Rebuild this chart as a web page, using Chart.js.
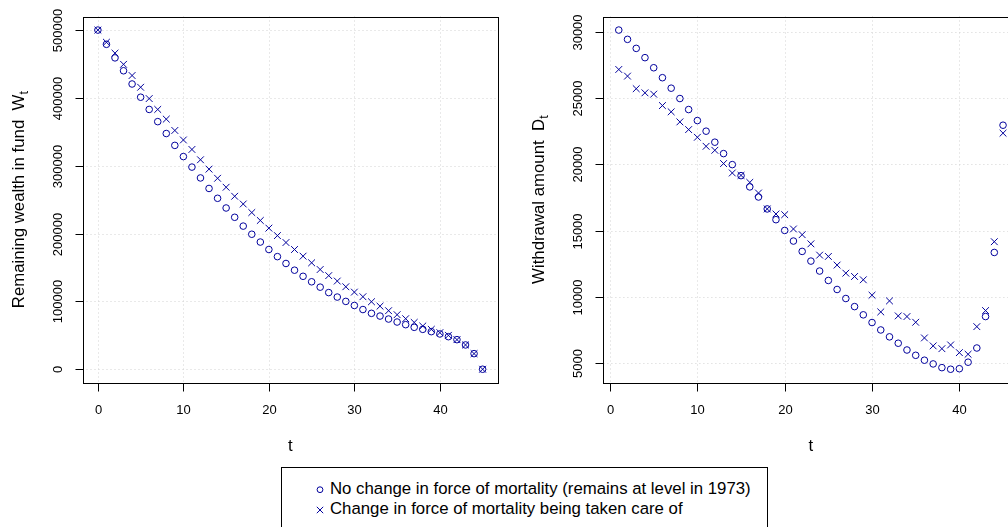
<!DOCTYPE html>
<html>
<head>
<meta charset="utf-8">
<script src="https://cdn.jsdelivr.net/npm/chart.js@4.4.0/dist/chart.umd.min.js"></script>
<style>
  html, body { margin: 0; padding: 0; background: #fff; overflow: hidden; }
  body { width: 1008px; height: 527px; position: relative; font-family: "Liberation Sans", Arial, sans-serif; }
  #wealthChart { position: absolute; left: 0; top: 0; }
  #withdrawChart { position: absolute; left: 504px; top: 0; }
  .legend { position: absolute; left: 281px; top: 467px; width: 487px; height: 80px; border: 1px solid #000; box-sizing: border-box; }
  .legend .item { position: absolute; left: 48px; font-size: 16.8px; line-height: 20px; white-space: nowrap; color: #000; }
  .legend svg { position: absolute; left: 0; top: 0; }
</style>
</head>
<body>
<canvas id="wealthChart" width="504" height="460"></canvas>
<canvas id="withdrawChart" width="560" height="460"></canvas>
<div class="legend">
  <svg width="80" height="60">
    <circle cx="38" cy="21.7" r="2.9" fill="none" stroke="#00009c" stroke-width="1"/>
    <path d="M34.8 38.8 L41.2 45.2 M41.2 38.8 L34.8 45.2" stroke="#00009c" stroke-width="1"/>
  </svg>
  <div class="item" style="top:11.4px">No change in force of mortality (remains at level in 1973)</div>
  <div class="item" style="top:31.4px">Change in force of mortality being taken care of</div>
</div>
<script>
// years after retirement
const tWealth = [];
for (let t = 0; t <= 45; t++) tWealth.push(t);
const tWithdraw = tWealth.slice(1);

// remaining wealth W_t
const wealthNoChange = [
  500000, 479000, 459000, 440000, 420500, 401000, 383000, 365000, 347500, 330000,
  313500, 298000, 282000, 266500, 252000, 237700, 224000, 211000, 199000, 187500,
  176500, 166000, 155900, 146000, 137000, 128900, 121000, 113000, 106400, 100000,
  94000, 88000, 82400, 78400, 74000, 69600, 65700, 61800, 58800, 55400,
  52000, 48000, 43600, 35800, 23000, 0
];
const wealthChange = [
  500000, 482000, 466000, 449500, 433000, 415700, 399000, 383000, 368700, 352000,
  338000, 324000, 308800, 295000, 281500, 268300, 255000, 243600, 231000, 219300,
  208000, 197000, 186800, 176500, 166700, 156900, 147000, 138000, 130000, 121600,
  113700, 106900, 99500, 93000, 86300, 80400, 74500, 69000, 63700, 58800,
  53900, 50000, 43600, 35800, 23000, 0
];

// withdrawal amount D_t
const withdrawNoChange = [
  30120, 29420, 28740, 28040, 27280, 26530, 25740, 24960, 24130, 23300,
  22500, 21670, 20810, 19980, 19150, 18300, 17540, 16640, 15830, 15020,
  14220, 13440, 12710, 11960, 11250, 10570, 9890, 9280, 8660, 8080,
  7520, 7000, 6520, 6010, 5610, 5240, 4960, 4680, 4560, 4600,
  5090, 6160, 8530, 13360, 22950
];
const withdrawChange = [
  27150, 26650, 25700, 25390, 25290, 24430, 23960, 23200, 22620, 22040,
  21360, 21060, 20060, 19350, 19170, 18640, 17840, 16640, 16260, 16210,
  15130, 14700, 14010, 13160, 13060, 12410, 11800, 11550, 11300, 10140,
  8880, 9710, 8580, 8530, 8100, 6920, 6320, 6110, 6390, 5810,
  5690, 7770, 8980, 14170, 22350
];

// tick values
const tTicks = [0, 10, 20, 30, 40];
const wealthTicks = [0, 100000, 200000, 300000, 400000, 500000];
const withdrawTicks = [5000, 10000, 15000, 20000, 25000, 30000];

const BLUE = '#00009c';
const FONT = '"Liberation Sans", Arial, sans-serif';

// base-graphics look: dotted grid, box, outward ticks, rotated y labels
const baseAxes = {
  id: 'baseAxes',
  beforeDatasetsDraw(chart, args, o) {
    const ctx = chart.ctx, a = chart.chartArea;
    const xs = chart.scales.x, ys = chart.scales.y;
    ctx.save();
    ctx.strokeStyle = '#d3d3d3';
    ctx.lineWidth = 1;
    ctx.setLineDash([1, 3]);
    o.xTicks.forEach(v => {
      const px = Math.round(xs.getPixelForValue(v)) + 0.5;
      ctx.beginPath(); ctx.moveTo(px, a.top); ctx.lineTo(px, a.bottom); ctx.stroke();
    });
    o.yTicks.forEach(v => {
      const py = Math.round(ys.getPixelForValue(v)) + 0.5;
      ctx.beginPath(); ctx.moveTo(a.left, py); ctx.lineTo(a.right, py); ctx.stroke();
    });
    ctx.restore();
  },
  afterDraw(chart, args, o) {
    const ctx = chart.ctx, a = chart.chartArea;
    const xs = chart.scales.x, ys = chart.scales.y;
    ctx.save();
    ctx.strokeStyle = '#000';
    ctx.lineWidth = 1;
    const L = Math.round(a.left) + 0.5, R = Math.round(a.right) + 0.5;
    const T = Math.round(a.top) + 0.5, B = Math.round(a.bottom) + 0.5;
    ctx.strokeRect(L, T, R - L, B - T);

    ctx.fillStyle = '#000';
    ctx.font = '13px ' + FONT;
    ctx.textAlign = 'center';
    ctx.textBaseline = 'middle';
    o.xTicks.forEach(v => {
      const px = Math.round(xs.getPixelForValue(v)) + 0.5;
      ctx.beginPath(); ctx.moveTo(px, B); ctx.lineTo(px, B + 8); ctx.stroke();
      ctx.fillText(String(v), px, B + 27);
    });
    o.yTicks.forEach(v => {
      const py = Math.round(ys.getPixelForValue(v)) + 0.5;
      ctx.beginPath(); ctx.moveTo(L, py); ctx.lineTo(L - 8, py); ctx.stroke();
      ctx.save();
      ctx.translate(L - 25.5, py);
      ctx.rotate(-Math.PI / 2);
      ctx.fillText(String(v), 0, 0);
      ctx.restore();
    });

    // x title
    ctx.font = '16.8px ' + FONT;
    ctx.fillText('t', (a.left + a.right) / 2, B + 63);

    // y title with subscript
    ctx.save();
    ctx.translate(L - 64, (a.top + a.bottom) / 2);
    ctx.rotate(-Math.PI / 2);
    ctx.textAlign = 'left';
    ctx.font = '16.8px ' + FONT;
    const main = o.yTitle;
    const wMain = ctx.measureText(main).width;
    ctx.font = '12.6px ' + FONT;
    const wSub = ctx.measureText(o.ySub).width;
    const x0 = -(wMain + wSub) / 2;
    ctx.font = '16.8px ' + FONT;
    ctx.fillText(main, x0, 0);
    ctx.font = '12.6px ' + FONT;
    ctx.fillText(o.ySub, x0 + wMain, 5);
    ctx.restore();
    ctx.restore();
  }
};

function pairs(xs, ys) {
  return xs.map((x, i) => ({ x: x, y: ys[i] }));
}

function makePlot(id, tVals, circles, crosses, xRange, yRange, padding, yTicks, yTitle) {
  return new Chart(document.getElementById(id), {
    type: 'scatter',
    data: {
      datasets: [
        {
          label: 'No change in force of mortality (remains at level in 1973)',
          data: pairs(tVals, circles),
          pointStyle: 'circle',
          radius: 3.3,
          borderWidth: 1,
          borderColor: BLUE,
          backgroundColor: 'rgba(0,0,0,0)'
        },
        {
          label: 'Change in force of mortality being taken care of',
          data: pairs(tVals, crosses),
          pointStyle: 'crossRot',
          radius: 4.8,
          borderWidth: 1,
          borderColor: BLUE,
          backgroundColor: BLUE
        }
      ]
    },
    options: {
      responsive: false,
      animation: false,
      events: [],
      layout: { padding: padding },
      scales: {
        x: { type: 'linear', display: false, min: xRange[0], max: xRange[1] },
        y: { type: 'linear', display: false, min: yRange[0], max: yRange[1] }
      },
      plugins: {
        legend: { display: false },
        tooltip: { enabled: false },
        baseAxes: { xTicks: tTicks, yTicks: yTicks, yTitle: yTitle, ySub: 't' }
      }
    },
    plugins: [baseAxes]
  });
}

makePlot('wealthChart', tWealth, wealthNoChange, wealthChange,
  [-1.8, 46.8], [-20000, 520000],
  { left: 82.5, top: 16.5, right: 6, bottom: 77.2 },
  wealthTicks, 'Remaining wealth in fund  W');

makePlot('withdrawChart', tWithdraw, withdrawNoChange, withdrawChange,
  [-0.76, 46.76], [3538, 31142],
  { left: 99.4, top: 16.5, right: 45.6, bottom: 77.2 },
  withdrawTicks, 'Withdrawal amount  D');
</script>
</body>
</html>
